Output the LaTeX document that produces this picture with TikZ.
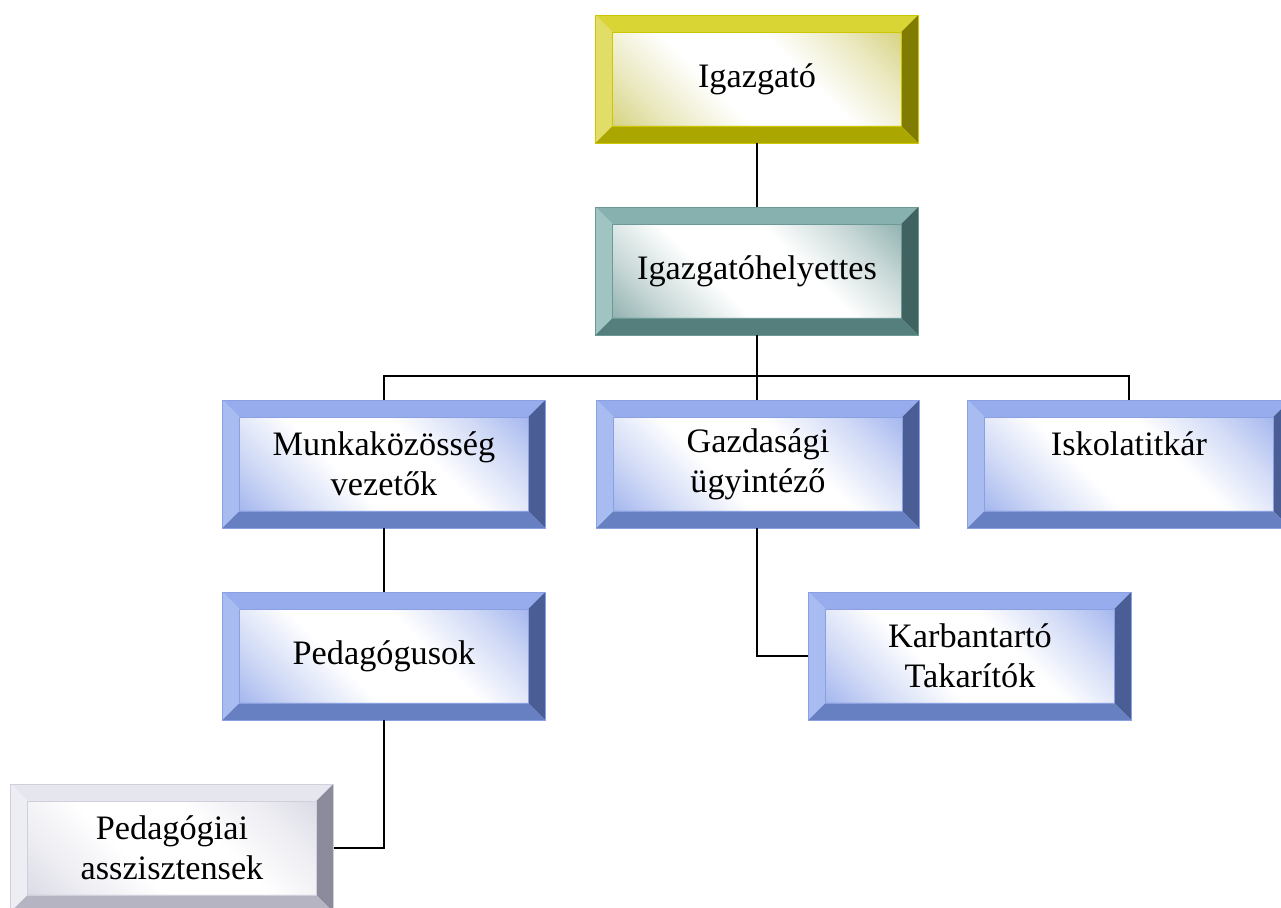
\documentclass[tikz,border=0pt]{standalone}
\usepackage{fontspec}
\setmainfont{Liberation Serif}
\definecolor{igtop}{HTML}{D9D535}
\definecolor{igleft}{HTML}{E1DD66}
\definecolor{igright}{HTML}{807C00}
\definecolor{igbot}{HTML}{ABA700}
\definecolor{igline}{HTML}{CCC700}
\definecolor{igtint}{HTML}{D3CF78}
\definecolor{hetop}{HTML}{87B1AF}
\definecolor{heleft}{HTML}{A0C4C2}
\definecolor{heright}{HTML}{406361}
\definecolor{hebot}{HTML}{557F7D}
\definecolor{heline}{HTML}{6C9896}
\definecolor{hetint}{HTML}{88ABA9}
\definecolor{bltop}{HTML}{96ACEC}
\definecolor{blleft}{HTML}{A8BCF1}
\definecolor{blright}{HTML}{4B5D95}
\definecolor{blbot}{HTML}{6780C1}
\definecolor{blline}{HTML}{8AA0E0}
\definecolor{bltint}{HTML}{9CB0EC}
\definecolor{grtop}{HTML}{E6E6EF}
\definecolor{grleft}{HTML}{EDEDF4}
\definecolor{grright}{HTML}{8B8B9C}
\definecolor{grbot}{HTML}{B4B4C2}
\definecolor{grline}{HTML}{D0D0DC}
\definecolor{grtint}{HTML}{D8D8E4}
\colorlet{bevtint}{white}
\pgfdeclarehorizontalshading[bevtint]{bevelface}{100bp}{color(0bp)=(bevtint); color(18bp)=(bevtint);
  color(30bp)=(bevtint!45!white); color(42bp)=(white); color(58bp)=(white);
  color(70bp)=(bevtint!45!white); color(82bp)=(bevtint); color(100bp)=(bevtint)}
\newcommand\bevelfont{\fontsize{19.5}{22.7}\selectfont}
\def\bevw{0.34cm}
\tikzset{
  bevelbox/.style n args={6}{minimum width=6.46cm, minimum height=2.56cm, inner sep=0pt,
    align=center, font=\bevelfont, draw=#5, line width=0.4pt,
    path picture={
      \colorlet{bevtint}{#6}
      \shade[shading=bevelface, shading angle=45]
        (path picture bounding box.south west) rectangle (path picture bounding box.north east);
      \fill[#1] (path picture bounding box.north west) -- (path picture bounding box.north east)
        -- ([shift={(-\bevw,-\bevw)}]path picture bounding box.north east)
        -- ([shift={(\bevw,-\bevw)}]path picture bounding box.north west) -- cycle;
      \fill[#2] (path picture bounding box.north west) -- (path picture bounding box.south west)
        -- ([shift={(\bevw,\bevw)}]path picture bounding box.south west)
        -- ([shift={(\bevw,-\bevw)}]path picture bounding box.north west) -- cycle;
      \fill[#3] (path picture bounding box.north east) -- (path picture bounding box.south east)
        -- ([shift={(-\bevw,\bevw)}]path picture bounding box.south east)
        -- ([shift={(-\bevw,-\bevw)}]path picture bounding box.north east) -- cycle;
      \fill[#4] (path picture bounding box.south west) -- (path picture bounding box.south east)
        -- ([shift={(-\bevw,\bevw)}]path picture bounding box.south east)
        -- ([shift={(\bevw,\bevw)}]path picture bounding box.south west) -- cycle;
      \draw[#5, line width=0.3pt] ([shift={(\bevw,\bevw)}]path picture bounding box.south west)
        rectangle ([shift={(-\bevw,-\bevw)}]path picture bounding box.north east);
    }},
  igazbox/.style={bevelbox={igtop}{igleft}{igright}{igbot}{igline}{igtint}},
  helybox/.style={bevelbox={hetop}{heleft}{heright}{hebot}{heline}{hetint}},
  bluebox/.style={bevelbox={bltop}{blleft}{blright}{blbot}{blline}{bltint}},
  greybox/.style={bevelbox={grtop}{grleft}{grright}{grbot}{grline}{grtint}},
  conn/.style={draw=black, line width=1.1pt}
}
\begin{document}
\begin{tikzpicture}[x=0.02cm, y=-0.02cm]
	\useasboundingbox (0,0) rectangle (1281,908);
	\node[igazbox] (igazgato) at (757,79) {Igazgató};
	\node[helybox] (helyettes) at (757,271) {Igazgatóhelyettes};
	\node[bluebox] (munka) at (384,464) {Munkaközösség\\vezetők};
	\node[bluebox] (gazdasagi) at (758,464) {Gazdasági\\ügyintéző};
	\node[bluebox] (titkar) at (1129,464) {Iskolatitkár\\\mbox{}};
	\node[bluebox] (pedagogus) at (384,656) {Pedagógusok};
	\node[bluebox] (karban) at (970,656) {Karbantartó\\Takarítók};
	\node[greybox] (asszisz) at (172,848) {Pedagógiai\\asszisztensek};
	\coordinate (elagazas) at (757,376);
	\draw[conn] (igazgato) -- (helyettes);
	\draw[conn] (helyettes.south) -- (elagazas);
	\draw[conn] (munka.north) |- (elagazas) -| (titkar.north);
	\draw[conn] (elagazas) -- (gazdasagi.north -| elagazas);
	\draw[conn] (munka) -- (pedagogus);
	\draw[conn] (gazdasagi.south -| elagazas) |- (karban.west);
	\draw[conn] (pedagogus.south) |- (asszisz.east);
\end{tikzpicture}
\end{document}
